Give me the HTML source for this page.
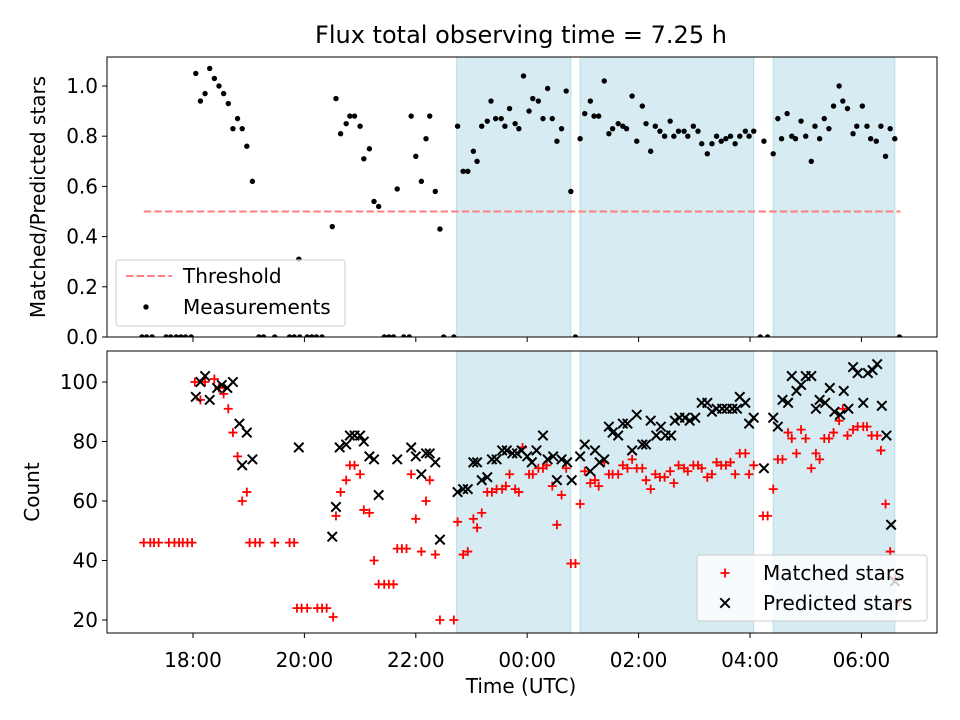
<!DOCTYPE html>
<html><head><meta charset="utf-8"><style>
html,body{margin:0;padding:0;background:#fff;}
svg{display:block;font-family:"DejaVu Sans","Liberation Sans",sans-serif;}
</style></head><body>
<svg id="fig" width="960" height="720" viewBox="0 0 960 720"></svg>
<script>
// ---- data (times in minutes since 18:00 UTC) ----
const ratioTimes = [-55,-50,-44,-29,-24,-18,-13,-8,-2,3,8,13,18,23,28,33,38,43,48,53,58,64,71,76,88,104,109,115,123,128,133,139,114,150,154,159,165,169,174,180,184,190,195,200,206,211,216,227,233,220,235,240,246,251,255,261,266,270,281,285,291,296,302,306,311,317,321,326,332,336,341,347,351,356,362,366,372,377,382,387,392,397,402,407,412,417,422,428,432,437,443,448,452,458,463,467,473,478,484,488,493,498,503,508,514,518,523,529,533,539,544,548,554,559,564,569,574,579,584,589,595,599,604,611,615,619,625,630,634,640,645,649,655,660,666,670,675,680,685,690,696,700,705,711,715,721,726,730,736,741,746,751,756,761];
const ratioValues = [0,0,0,0,0,0,0,0,0,1.05,0.94,0.97,1.07,1.03,1.00,0.97,0.93,0.83,0.87,0.83,0.76,0.62,0,0,0,0,0,0,0,0,0,0,0.31,0.44,0.95,0.81,0.85,0.88,0.88,0.84,0.71,0.75,0.54,0.52,0,0,0,0,0,0.59,0.88,0.72,0.62,0.79,0.88,0.58,0.43,0,0,0.84,0.66,0.66,0.74,0.70,0.84,0.86,0.94,0.87,0.87,0.84,0.91,0.85,0.83,1.04,0.90,0.95,0.94,0.87,0.99,0.87,0.78,0.83,0.98,0.58,0,0.79,0.89,0.94,0.88,0.88,1.02,0.81,0.83,0.85,0.84,0.83,0.96,0.78,0.92,0.85,0.74,0.84,0.82,0.80,0.86,0.80,0.82,0.82,0.80,0.84,0.82,0.77,0.73,0.77,0.80,0.78,0.79,0.80,0.77,0.80,0.82,0.80,0.82,0,0.78,0,0.73,0.87,0.79,0.89,0.80,0.79,0.86,0.80,0.70,0.84,0.79,0.87,0.83,0.92,1.00,0.94,0.91,0.81,0.84,0.92,0.84,0.79,0.78,0.84,0.72,0.83,0.79,0];
const threshold = 0.5;
const thresholdRange = [-53, 762];

const matchedTimes = [-53,-46,-42,-37,-26,-20,-15,-11,-6,-1,2,13,23,8,33,28,38,43,48,58,53,61,67,72,88,104,109,112,117,123,134,139,144,151,154,159,165,169,174,180,184,190,195,200,206,211,216,220,225,230,235,240,246,251,255,261,266,281,285,291,296,302,306,311,317,322,327,333,337,341,347,351,355,362,366,372,377,381,387,392,397,402,407,412,417,422,428,433,437,443,448,452,458,463,468,473,478,484,488,493,498,503,508,514,518,523,529,533,539,544,548,554,559,564,569,574,579,584,589,595,599,604,614,619,625,630,635,641,645,650,655,660,666,671,675,680,685,690,696,700,705,711,716,722,726,731,737,741,746,751,756,761];
const matchedValues = [46,46,46,46,46,46,46,46,46,46,100,100,101,94,96,98,91,83,75,63,60,46,46,46,46,46,46,24,24,24,24,24,24,21,55,63,67,72,72,69,57,56,40,32,32,32,32,44,44,44,69,54,43,60,67,42,20,20,53,42,43,54,51,56,63,63,64,64,65,69,64,63,78,69,69,71,71,72,65,52,62,71,39,39,59,70,66,67,65,73,69,69,69,72,71,74,71,71,67,64,69,68,68,70,66,72,71,70,72,72,71,68,69,73,72,72,73,69,76,76,69,72,55,55,64,74,74,83,81,76,84,81,71,76,74,81,81,83,87,91,82,84,85,85,85,82,82,77,59,43,34,26];

const predictedTimes = [3,8,13,18,26,31,37,43,50,58,53,64,114,150,154,158,165,169,174,180,184,190,195,200,220,235,240,246,251,255,261,266,285,291,296,302,306,311,317,322,327,333,338,344,349,354,360,365,370,377,382,388,392,397,403,408,417,422,428,433,438,443,448,452,458,463,468,473,478,484,488,493,499,504,509,515,519,524,530,535,541,548,554,559,564,570,575,581,586,589,595,599,604,615,625,630,635,641,645,650,655,660,666,671,675,681,686,691,697,701,706,711,716,722,727,732,737,742,747,752,756];
const predictedValues = [95,100,102,94,98,99,98,100,86,83,72,74,78,48,58,78,79,82,82,82,80,75,74,62,74,78,75,69,76,76,73,47,63,64,64,73,73,67,68,74,74,77,77,76,76,77,75,73,77,82,74,75,67,74,73,67,75,79,70,77,73,74,85,83,82,86,86,77,89,79,79,87,82,85,82,82,87,88,88,87,88,93,93,90,91,91,91,91,91,95,93,86,88,71,88,85,94,93,102,97,99,102,102,91,94,93,98,90,89,97,91,105,103,93,103,104,106,92,82,52,33];

const spanStarts = [284, 417, 625];
const spanEnds = [407, 604, 756];

const xTickMinutes = [0,120,240,360,480,600,720];
const xTickLabels = ["18:00","20:00","22:00","00:00","02:00","04:00","06:00"];
const topTicks = [0,0.2,0.4,0.6,0.8,1.0];
const topTickLabels = ["0.0","0.2","0.4","0.6","0.8","1.0"];
const botTicks = [20,40,60,80,100];
const botTickLabels = ["20","40","60","80","100"];

// ---- geometry ----
const NS = "http://www.w3.org/2000/svg";
const svgRoot = document.getElementById('fig');
const AX_L = 107, AX_R = 937;
const TOP_T = 57, TOP_B = 337, BOT_T = 351, BOT_B = 633;
const FS = 20;
function xs(m){ return 193 + m*55.7/60; }
function yTop(v){ return 337 - v*251; }
function yBot(c){ return 620 - (c-20)*2.975; }

function mk(tag, attrs, parent){
  const e = document.createElementNS(NS, tag);
  for (const k in attrs) e.setAttribute(k, attrs[k]);
  (parent||svgRoot).appendChild(e);
  return e;
}

const defs = mk('defs', {});
const c1 = mk('clipPath', {id:'clipTop'}, defs); mk('rect',{x:AX_L,y:TOP_T,width:AX_R-AX_L,height:TOP_B-TOP_T},c1);
const c2 = mk('clipPath', {id:'clipBot'}, defs); mk('rect',{x:AX_L,y:BOT_T,width:AX_R-AX_L,height:BOT_B-BOT_T},c2);

const chartTitle = mk('text',{x:521,y:43,'text-anchor':'middle','font-size':'24'});
chartTitle.textContent = 'Flux total observing time = 7.25 h';



function drawAxes(panel, t, b, clipId){
  const g = mk('g', {});
  
  
  const plot = mk('g', {'clip-path':'url(#'+clipId+')'}, g);
  for (let i=0;i<spanStarts.length;i++){
    const r = mk('rect',{x:xs(spanStarts[i]),y:t,width:xs(spanEnds[i])-xs(spanStarts[i]),height:b-t,fill:'#d6ebf2',stroke:'#b9dde9','stroke-width':1}, plot);
    
    
  }
  return {g, plot};
}

function frame(g, t, b, panel){
  const f = mk('rect',{x:AX_L,y:t,width:AX_R-AX_L,height:b-t,fill:'none',stroke:'#000','stroke-width':1}, g);
  
  
  for (let i=0;i<xTickMinutes.length;i++){
    const x = xs(xTickMinutes[i]);
    const tk = mk('line',{x1:x,x2:x,y1:b,y2:b+5,stroke:'#000','stroke-width':1}, g);
    
    
  }
}

// ---- top panel ----
const topPanel = drawAxes('top', TOP_T, TOP_B, 'clipTop');
const th = mk('line',{x1:xs(thresholdRange[0]),x2:xs(thresholdRange[1]),y1:yTop(threshold),y2:yTop(threshold),stroke:'#ff7f7f','stroke-width':2,'stroke-dasharray':'7.4,3.2'}, topPanel.plot);


for (let i=0;i<ratioTimes.length;i++){
  const d = mk('circle',{cx:xs(ratioTimes[i]),cy:yTop(ratioValues[i]),r:2.7,fill:'#000'}, topPanel.plot);
  
  
}
frame(topPanel.g, TOP_T, TOP_B, 'top');
for (let i=0;i<topTicks.length;i++){
  const y = yTop(topTicks[i]);
  const tk = mk('line',{x1:AX_L-5,x2:AX_L,y1:y,y2:y,stroke:'#000'}, topPanel.g);
  
  
  const l = mk('text',{x:AX_L-9,y:y+7,'text-anchor':'end','font-size':FS}, topPanel.g);
  l.textContent = topTickLabels[i];
  
  
}
const yl1 = mk('text',{x:0,y:0,'text-anchor':'middle','font-size':FS,transform:'translate(45,197) rotate(-90)'});
yl1.textContent = 'Matched/Predicted stars';



const lg1 = mk('g',{});


mk('rect',{x:116,y:260,width:229,height:66,rx:3,fill:'#fff','fill-opacity':0.8,stroke:'#ccc'}, lg1);
mk('line',{x1:126,x2:172,y1:276,y2:276,stroke:'#ff7f7f','stroke-width':2,'stroke-dasharray':'7.4,3.2'}, lg1);
const lt1 = mk('text',{x:183,y:283,'font-size':FS}, lg1); lt1.textContent='Threshold';


mk('circle',{cx:146,cy:307,r:2.7,fill:'#000'}, lg1);
const lt2 = mk('text',{x:183,y:314,'font-size':FS}, lg1); lt2.textContent='Measurements';



// ---- bottom panel ----
const botPanel = drawAxes('bottom', BOT_T, BOT_B, 'clipBot');
for (let i=0;i<matchedTimes.length;i++){
  const x = xs(matchedTimes[i]), y = yBot(matchedValues[i]);
  const p = mk('path',{d:`M${x-4.5},${y}H${x+4.5}M${x},${y-4.5}V${y+4.5}`,stroke:'#ff0000','stroke-width':1.8,fill:'none'}, botPanel.plot);
  
  
}
for (let i=0;i<predictedTimes.length;i++){
  const x = xs(predictedTimes[i]), y = yBot(predictedValues[i]);
  const p = mk('path',{d:`M${x-4.7},${y-4.7}L${x+4.7},${y+4.7}M${x-4.7},${y+4.7}L${x+4.7},${y-4.7}`,stroke:'#000','stroke-width':2,fill:'none'}, botPanel.plot);
  
  
}
frame(botPanel.g, BOT_T, BOT_B, 'bottom');
for (let i=0;i<botTicks.length;i++){
  const y = yBot(botTicks[i]);
  const tk = mk('line',{x1:AX_L-5,x2:AX_L,y1:y,y2:y,stroke:'#000'}, botPanel.g);
  
  
  const l = mk('text',{x:AX_L-9,y:y+7,'text-anchor':'end','font-size':FS}, botPanel.g);
  l.textContent = botTickLabels[i];
  
  
}
for (let i=0;i<xTickMinutes.length;i++){
  const l = mk('text',{x:xs(xTickMinutes[i]),y:667,'text-anchor':'middle','font-size':FS}, botPanel.g);
  l.textContent = xTickLabels[i];
  
  
}
const yl2 = mk('text',{x:0,y:0,'text-anchor':'middle','font-size':FS,transform:'translate(39,492) rotate(-90)'});
yl2.textContent = 'Count';


const xl = mk('text',{x:521,y:693,'text-anchor':'middle','font-size':FS});
xl.textContent = 'Time (UTC)';



const lg2 = mk('g',{});


mk('rect',{x:697,y:555,width:230,height:66,rx:3,fill:'#fff','fill-opacity':0.8,stroke:'#ccc'}, lg2);
mk('path',{d:'M720.5,573H729.5M725,568.5V577.5',stroke:'#ff0000','stroke-width':1.8}, lg2);
const lt3 = mk('text',{x:763,y:580,'font-size':FS}, lg2); lt3.textContent='Matched stars';


mk('path',{d:'M720.3,598.3L729.7,607.7M720.3,607.7L729.7,598.3',stroke:'#000','stroke-width':2}, lg2);
const lt4 = mk('text',{x:763,y:610,'font-size':FS}, lg2); lt4.textContent='Predicted stars';


</script>
</body></html>
